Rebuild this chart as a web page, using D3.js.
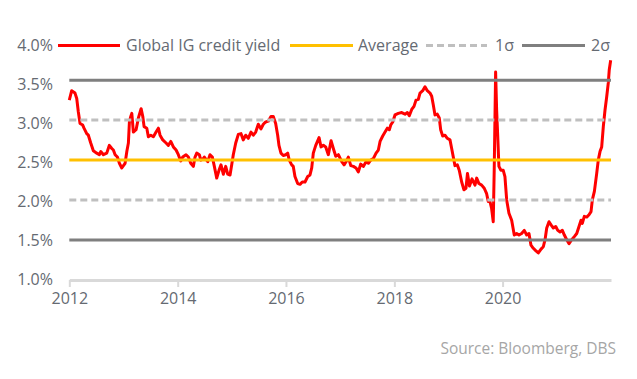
<!DOCTYPE html>
<html>
<head>
<meta charset="utf-8">
<script src="https://cdn.jsdelivr.net/npm/d3@7"></script>
<style>
  html, body { margin: 0; padding: 0; background: #fff; }
  svg { display: block; }
  text { font-family: "Open Sans", "Noto Sans", sans-serif; }
</style>
</head>
<body>
<svg id="chart" width="637" height="379"></svg>
<script>
// ---- data (years after 2012.0, yield in %) ----
const yearOffsets = [
  0.000,0.044,0.105,0.137,0.166,0.198,0.247,0.271,0.321,0.351,0.395,0.443,0.506,0.554,0.580,0.628,0.690,0.738,0.783,0.812,
  0.844,0.886,0.923,0.967,1.028,1.060,1.089,1.108,1.133,1.152,1.181,1.231,1.274,1.324,1.355,1.379,1.429,1.458,1.503,1.551,
  1.600,1.643,1.674,1.724,1.785,1.828,1.872,1.920,1.970,2.012,2.056,2.093,2.154,2.197,2.241,2.289,2.320,2.352,2.400,2.426,
  2.474,2.492,2.555,2.597,2.640,2.677,2.721,2.763,2.800,2.843,2.887,2.924,2.967,2.998,3.027,3.072,3.120,3.170,3.212,3.256,
  3.304,3.354,3.397,3.441,3.489,3.539,3.581,3.626,3.674,3.723,3.766,3.810,3.847,3.871,3.908,3.950,3.995,4.032,4.061,4.106,
  4.135,4.166,4.216,4.259,4.301,4.351,4.401,4.443,4.475,4.504,4.549,4.610,4.646,4.689,4.733,4.781,4.831,4.873,4.918,4.966,
  5.028,5.071,5.108,5.150,5.195,5.243,5.292,5.335,5.379,5.427,5.477,5.520,5.564,5.612,5.662,5.704,5.736,5.785,5.828,5.870,
  5.907,5.933,5.970,6.012,6.073,6.136,6.197,6.240,6.276,6.321,6.363,6.400,6.443,6.474,6.524,6.566,6.609,6.659,6.690,6.719,
  6.751,6.793,6.830,6.856,6.893,6.935,6.978,7.028,7.059,7.089,7.120,7.163,7.199,7.244,7.286,7.323,7.351,7.388,7.434,7.490,
  7.521,7.563,7.613,7.661,7.705,7.735,7.766,7.797,7.827,7.845,7.871,7.890,7.908,7.932,7.969,8.012,8.043,8.075,8.117,8.167,
  8.215,8.259,8.302,8.351,8.399,8.444,8.486,8.523,8.566,8.610,8.658,8.708,8.750,8.782,8.813,8.855,8.892,8.935,8.979,9.016,
  9.058,9.101,9.138,9.182,9.225,9.274,9.322,9.367,9.409,9.446,9.470,9.507,9.551,9.594,9.631,9.655,9.693,9.736,9.765,9.797,
  9.828,9.858,9.889,9.920,9.950,9.968,9.994
];
const yieldValues = [
  3.30,3.42,3.39,3.32,3.15,3.00,2.98,2.94,2.87,2.85,2.75,2.65,2.62,2.60,2.64,2.60,2.62,2.72,2.68,2.66,
  2.60,2.57,2.49,2.43,2.49,2.64,2.75,3.02,3.09,3.13,2.89,2.92,3.07,3.19,3.09,2.96,2.94,2.83,2.85,2.83,
  2.89,2.94,2.85,2.79,2.75,2.72,2.77,2.70,2.66,2.60,2.52,2.57,2.60,2.57,2.49,2.45,2.57,2.62,2.60,2.53,
  2.55,2.57,2.51,2.60,2.57,2.45,2.30,2.40,2.47,2.35,2.45,2.35,2.34,2.47,2.60,2.75,2.86,2.87,2.79,2.85,
  2.81,2.89,2.85,2.89,2.99,2.93,2.99,3.02,3.03,3.09,3.09,3.00,2.85,2.72,2.62,2.59,2.60,2.62,2.53,2.47,
  2.45,2.32,2.23,2.22,2.25,2.25,2.32,2.34,2.43,2.62,2.72,2.82,2.70,2.72,2.70,2.60,2.78,2.68,2.58,2.60,
  2.51,2.47,2.51,2.57,2.46,2.45,2.43,2.38,2.48,2.45,2.51,2.49,2.53,2.55,2.62,2.66,2.77,2.84,2.89,2.94,
  2.92,2.98,3.02,3.11,3.13,3.14,3.12,3.14,3.10,3.18,3.22,3.30,3.31,3.39,3.42,3.47,3.42,3.39,3.35,3.24,
  3.11,3.12,3.07,2.92,2.84,2.85,2.81,2.79,2.68,2.57,2.46,2.47,2.40,2.25,2.15,2.17,2.36,2.20,2.29,2.21,
  2.30,2.23,2.21,2.17,2.10,2.00,2.00,1.91,1.74,2.40,3.66,3.17,2.87,2.45,2.40,2.40,2.32,2.02,1.85,1.76,
  1.57,1.59,1.57,1.59,1.63,1.57,1.59,1.44,1.40,1.37,1.34,1.39,1.42,1.51,1.66,1.74,1.70,1.66,1.68,1.63,
  1.61,1.63,1.57,1.51,1.46,1.51,1.55,1.59,1.68,1.76,1.72,1.81,1.80,1.83,1.87,2.02,2.13,2.36,2.53,2.64,
  2.70,2.96,3.17,3.34,3.52,3.69,3.81
];
const averageValue = 2.532;
const sigmaValue = 0.512;
const yTicks = [1.0, 1.5, 2.0, 2.5, 3.0, 3.5, 4.0];
const xTickYears = [2012, 2014, 2016, 2018, 2020];
const legendLabels = ["Global IG credit yield", "Average", "1σ", "2σ"];
const sourceText = "Source: Bloomberg, DBS";

// ---- build ----
function yearToDate(y) {
  const yr = Math.floor(y);
  const start = new Date(yr, 0, 1), end = new Date(yr + 1, 0, 1);
  return new Date(start.getTime() + (y - yr) * (end - start));
}
const series = yearOffsets.map((t, i) => ({ date: yearToDate(2012 + t), v: yieldValues[i] }));

const svg = d3.select("#chart");
const x = d3.scaleTime().domain([new Date(2012, 0, 1), new Date(2022, 0, 1)]).range([69.3, 611]);
const y = d3.scaleLinear().domain([1, 4]).range([279.5, 45.5]);

const tickColor = "#656a72";

// x axis
const xAxis = d3.axisBottom(x)
  .tickValues(xTickYears.map(yr => new Date(yr, 0, 1)))
  .tickFormat(d3.timeFormat("%Y"))
  .tickSizeInner(7).tickSizeOuter(0).tickPadding(6);
const gx = svg.append("g").attr("transform", "translate(0,280)").call(xAxis);
gx.select(".domain").attr("stroke", "#d9d9d9").attr("stroke-width", 3);
gx.selectAll(".tick line").attr("stroke", "#d9d9d9").attr("stroke-width", 2);
gx.selectAll(".tick text").attr("fill", tickColor).attr("font-size", 16)
  .attr("font-family", "'Open Sans', sans-serif");

// y axis labels
const yAxis = d3.axisLeft(y).tickValues(yTicks).tickFormat(d3.format(".1f")).tickSize(0).tickPadding(0);
const gy = svg.append("g").attr("transform", "translate(53,0)").call(yAxis);
gy.select(".domain").remove();
gy.selectAll(".tick text").text(d => d3.format(".1f")(d) + "%")
  .attr("fill", tickColor).attr("font-size", 16).attr("font-family", "'Open Sans', sans-serif");

// red series
const line = d3.line().x(d => x(d.date)).y(d => y(d.v)).curve(d3.curveLinear);
svg.append("path").datum(series).attr("d", line)
  .attr("fill", "none").attr("stroke", "#ff0000").attr("stroke-width", 3).attr("stroke-linejoin", "round");

// reference lines
const refLines = [
  { v: averageValue, color: "#ffc000", dash: null },
  { v: averageValue + sigmaValue, color: "#bfbfbf", dash: "7,4" },
  { v: averageValue - sigmaValue, color: "#bfbfbf", dash: "7,4" },
  { v: averageValue + 2 * sigmaValue, color: "#7f7f7f", dash: null },
  { v: averageValue - 2 * sigmaValue, color: "#7f7f7f", dash: null }
];
svg.selectAll("line.ref").data(refLines).enter().append("line").attr("class", "ref")
  .attr("x1", x.range()[0]).attr("x2", x.range()[1])
  .attr("y1", d => y(d.v)).attr("y2", d => y(d.v))
  .attr("stroke", d => d.color).attr("stroke-width", 3)
  .attr("stroke-dasharray", d => d.dash);

// legend
const legendItems = [
  { label: legendLabels[0], color: "#ff0000", dash: null, x0: 58, x1: 120, tx: 126 },
  { label: legendLabels[1], color: "#ffc000", dash: null, x0: 290, x1: 353, tx: 358 },
  { label: legendLabels[2], color: "#bfbfbf", dash: "7,4", x0: 426, x1: 487, tx: 495 },
  { label: legendLabels[3], color: "#7f7f7f", dash: null, x0: 522, x1: 585, tx: 591 }
];
const lg = svg.append("g");
legendItems.forEach(it => {
  lg.append("line").attr("x1", it.x0).attr("x2", it.x1).attr("y1", 45.5).attr("y2", 45.5)
    .attr("stroke", it.color).attr("stroke-width", 3).attr("stroke-dasharray", it.dash);
  lg.append("text").attr("x", it.tx).attr("y", 45.5).attr("dy", "0.35em")
    .attr("fill", tickColor).attr("font-size", 16).text(it.label);
});

// source
svg.append("text").attr("x", 616).attr("y", 349).attr("dy", "0.35em").attr("text-anchor", "end")
  .attr("fill", "#a6a6a6").attr("font-size", 15.5).text(sourceText);
</script>
</body>
</html>
